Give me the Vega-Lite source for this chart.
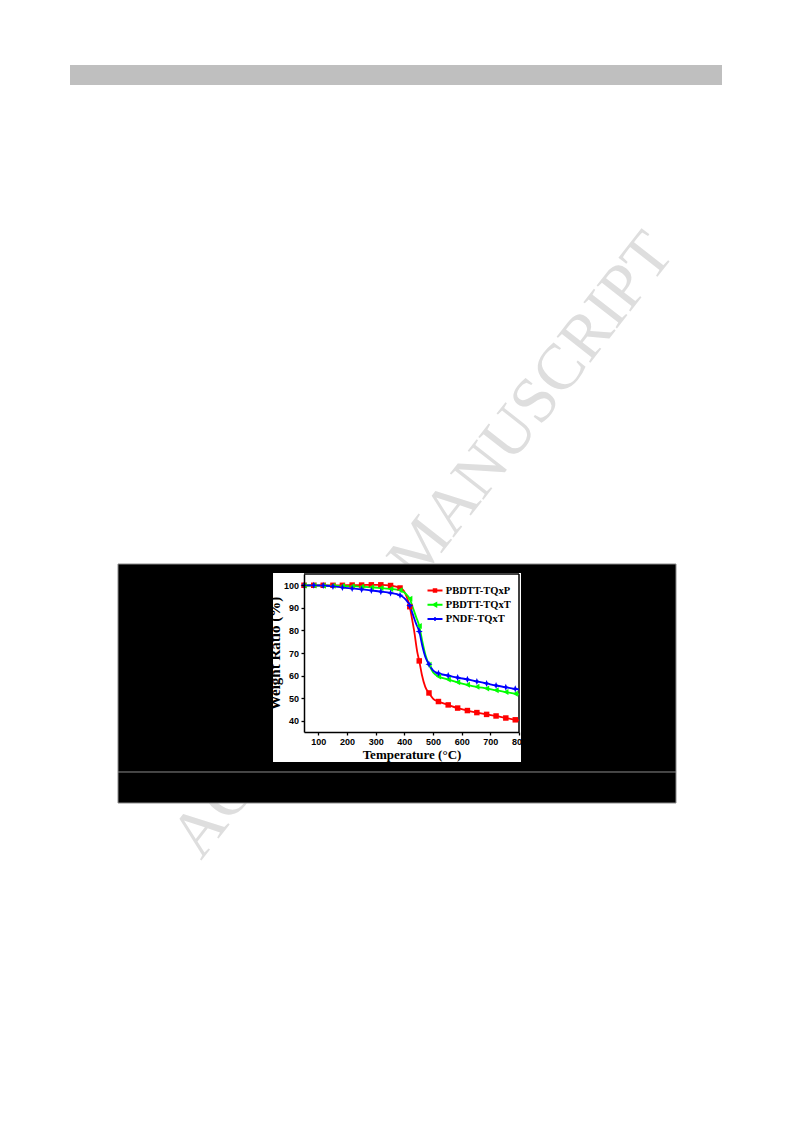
{
  "$schema": "https://vega.github.io/schema/vega-lite/v6.json",
  "width": 215,
  "height": 158,
  "autosize": {"type": "none"},
  "padding": {"left": 304, "top": 574, "right": 274, "bottom": 391},
  "background": "white",
  "view": {"stroke": null},
  "config": {
    "axis": {"grid": false, "labelOverlap": false, "labelFlush": false, "domainColor": "black", "domainWidth": 1.5, "tickColor": "black", "tickWidth": 1.3, "tickSize": 3, "labelColor": "black", "labelFont": "Liberation Sans", "labelFontWeight": "bold", "labelFontSize": 9, "titleColor": "black", "titleFont": "Liberation Serif", "titleFontWeight": "bold"}
  },
  "datasets": {
    "curves": [
      {"series": "PBDTT-TQxP", "T": 50, "W": 100.0}, {"series": "PBDTT-TQxP", "T": 84, "W": 100.0}, {"series": "PBDTT-TQxP", "T": 117, "W": 100.0}, {"series": "PBDTT-TQxP", "T": 151, "W": 100.0}, {"series": "PBDTT-TQxP", "T": 184, "W": 100.0}, {"series": "PBDTT-TQxP", "T": 218, "W": 100.1}, {"series": "PBDTT-TQxP", "T": 251, "W": 100.1}, {"series": "PBDTT-TQxP", "T": 285, "W": 100.2}, {"series": "PBDTT-TQxP", "T": 318, "W": 100.2}, {"series": "PBDTT-TQxP", "T": 352, "W": 99.9}, {"series": "PBDTT-TQxP", "T": 385, "W": 98.8}, {"series": "PBDTT-TQxP", "T": 398, "W": 97.6}, {"series": "PBDTT-TQxP", "T": 408, "W": 95.0}, {"series": "PBDTT-TQxP", "T": 419, "W": 90.5}, {"series": "PBDTT-TQxP", "T": 427, "W": 85.0}, {"series": "PBDTT-TQxP", "T": 434, "W": 80.0}, {"series": "PBDTT-TQxP", "T": 445, "W": 70.5}, {"series": "PBDTT-TQxP", "T": 452, "W": 66.5}, {"series": "PBDTT-TQxP", "T": 461, "W": 60.5}, {"series": "PBDTT-TQxP", "T": 473, "W": 55.0}, {"series": "PBDTT-TQxP", "T": 486, "W": 52.3}, {"series": "PBDTT-TQxP", "T": 500, "W": 49.8}, {"series": "PBDTT-TQxP", "T": 519, "W": 48.5}, {"series": "PBDTT-TQxP", "T": 553, "W": 47.0}, {"series": "PBDTT-TQxP", "T": 586, "W": 45.6}, {"series": "PBDTT-TQxP", "T": 620, "W": 44.5}, {"series": "PBDTT-TQxP", "T": 653, "W": 43.6}, {"series": "PBDTT-TQxP", "T": 687, "W": 42.8}, {"series": "PBDTT-TQxP", "T": 720, "W": 42.1}, {"series": "PBDTT-TQxP", "T": 754, "W": 41.2}, {"series": "PBDTT-TQxP", "T": 787, "W": 40.4}, {"series": "PBDTT-TQxP", "T": 800, "W": 40.1},
      {"series": "PBDTT-TQxT", "T": 50, "W": 99.9}, {"series": "PBDTT-TQxT", "T": 84, "W": 99.9}, {"series": "PBDTT-TQxT", "T": 117, "W": 99.8}, {"series": "PBDTT-TQxT", "T": 151, "W": 99.8}, {"series": "PBDTT-TQxT", "T": 184, "W": 99.7}, {"series": "PBDTT-TQxT", "T": 218, "W": 99.6}, {"series": "PBDTT-TQxT", "T": 251, "W": 99.4}, {"series": "PBDTT-TQxT", "T": 285, "W": 99.1}, {"series": "PBDTT-TQxT", "T": 318, "W": 98.8}, {"series": "PBDTT-TQxT", "T": 352, "W": 98.4}, {"series": "PBDTT-TQxT", "T": 385, "W": 97.8}, {"series": "PBDTT-TQxT", "T": 400, "W": 96.8}, {"series": "PBDTT-TQxT", "T": 410, "W": 95.5}, {"series": "PBDTT-TQxT", "T": 419, "W": 94.0}, {"series": "PBDTT-TQxT", "T": 430, "W": 90.0}, {"series": "PBDTT-TQxT", "T": 441, "W": 86.0}, {"series": "PBDTT-TQxT", "T": 452, "W": 82.0}, {"series": "PBDTT-TQxT", "T": 463, "W": 75.0}, {"series": "PBDTT-TQxT", "T": 474, "W": 69.0}, {"series": "PBDTT-TQxT", "T": 486, "W": 64.8}, {"series": "PBDTT-TQxT", "T": 500, "W": 61.5}, {"series": "PBDTT-TQxT", "T": 519, "W": 59.6}, {"series": "PBDTT-TQxT", "T": 553, "W": 58.3}, {"series": "PBDTT-TQxT", "T": 586, "W": 57.0}, {"series": "PBDTT-TQxT", "T": 620, "W": 55.9}, {"series": "PBDTT-TQxT", "T": 653, "W": 55.0}, {"series": "PBDTT-TQxT", "T": 687, "W": 54.3}, {"series": "PBDTT-TQxT", "T": 720, "W": 53.5}, {"series": "PBDTT-TQxT", "T": 754, "W": 52.7}, {"series": "PBDTT-TQxT", "T": 787, "W": 52.0}, {"series": "PBDTT-TQxT", "T": 800, "W": 51.7},
      {"series": "PNDF-TQxT", "T": 50, "W": 100.0}, {"series": "PNDF-TQxT", "T": 84, "W": 100.0}, {"series": "PNDF-TQxT", "T": 117, "W": 99.9}, {"series": "PNDF-TQxT", "T": 151, "W": 99.5}, {"series": "PNDF-TQxT", "T": 184, "W": 99.0}, {"series": "PNDF-TQxT", "T": 218, "W": 98.6}, {"series": "PNDF-TQxT", "T": 251, "W": 98.2}, {"series": "PNDF-TQxT", "T": 285, "W": 97.7}, {"series": "PNDF-TQxT", "T": 318, "W": 97.2}, {"series": "PNDF-TQxT", "T": 352, "W": 96.6}, {"series": "PNDF-TQxT", "T": 385, "W": 95.6}, {"series": "PNDF-TQxT", "T": 400, "W": 94.3}, {"series": "PNDF-TQxT", "T": 410, "W": 92.8}, {"series": "PNDF-TQxT", "T": 419, "W": 91.0}, {"series": "PNDF-TQxT", "T": 430, "W": 87.0}, {"series": "PNDF-TQxT", "T": 441, "W": 83.0}, {"series": "PNDF-TQxT", "T": 452, "W": 79.5}, {"series": "PNDF-TQxT", "T": 463, "W": 73.0}, {"series": "PNDF-TQxT", "T": 474, "W": 68.0}, {"series": "PNDF-TQxT", "T": 486, "W": 65.0}, {"series": "PNDF-TQxT", "T": 500, "W": 62.3}, {"series": "PNDF-TQxT", "T": 519, "W": 61.0}, {"series": "PNDF-TQxT", "T": 553, "W": 60.0}, {"series": "PNDF-TQxT", "T": 586, "W": 59.1}, {"series": "PNDF-TQxT", "T": 620, "W": 58.3}, {"series": "PNDF-TQxT", "T": 653, "W": 57.4}, {"series": "PNDF-TQxT", "T": 687, "W": 56.5}, {"series": "PNDF-TQxT", "T": 720, "W": 55.6}, {"series": "PNDF-TQxT", "T": 754, "W": 54.8}, {"series": "PNDF-TQxT", "T": 787, "W": 54.1}, {"series": "PNDF-TQxT", "T": 800, "W": 53.8}
    ],
    "markers": [
      {"series": "PBDTT-TQxP", "T": 50, "W": 100.0}, {"series": "PBDTT-TQxP", "T": 84, "W": 100.0}, {"series": "PBDTT-TQxP", "T": 117, "W": 100.0}, {"series": "PBDTT-TQxP", "T": 151, "W": 100.0}, {"series": "PBDTT-TQxP", "T": 184, "W": 100.0}, {"series": "PBDTT-TQxP", "T": 218, "W": 100.1}, {"series": "PBDTT-TQxP", "T": 251, "W": 100.1}, {"series": "PBDTT-TQxP", "T": 285, "W": 100.2}, {"series": "PBDTT-TQxP", "T": 318, "W": 100.2}, {"series": "PBDTT-TQxP", "T": 352, "W": 99.9}, {"series": "PBDTT-TQxP", "T": 385, "W": 98.8}, {"series": "PBDTT-TQxP", "T": 419, "W": 90.5}, {"series": "PBDTT-TQxP", "T": 452, "W": 66.5}, {"series": "PBDTT-TQxP", "T": 486, "W": 52.3}, {"series": "PBDTT-TQxP", "T": 519, "W": 48.5}, {"series": "PBDTT-TQxP", "T": 553, "W": 47.0}, {"series": "PBDTT-TQxP", "T": 586, "W": 45.6}, {"series": "PBDTT-TQxP", "T": 620, "W": 44.5}, {"series": "PBDTT-TQxP", "T": 653, "W": 43.6}, {"series": "PBDTT-TQxP", "T": 687, "W": 42.8}, {"series": "PBDTT-TQxP", "T": 720, "W": 42.1}, {"series": "PBDTT-TQxP", "T": 754, "W": 41.2}, {"series": "PBDTT-TQxP", "T": 787, "W": 40.4},
      {"series": "PBDTT-TQxT", "T": 50, "W": 99.9}, {"series": "PBDTT-TQxT", "T": 84, "W": 99.9}, {"series": "PBDTT-TQxT", "T": 117, "W": 99.8}, {"series": "PBDTT-TQxT", "T": 151, "W": 99.8}, {"series": "PBDTT-TQxT", "T": 184, "W": 99.7}, {"series": "PBDTT-TQxT", "T": 218, "W": 99.6}, {"series": "PBDTT-TQxT", "T": 251, "W": 99.4}, {"series": "PBDTT-TQxT", "T": 285, "W": 99.1}, {"series": "PBDTT-TQxT", "T": 318, "W": 98.8}, {"series": "PBDTT-TQxT", "T": 352, "W": 98.4}, {"series": "PBDTT-TQxT", "T": 385, "W": 97.8}, {"series": "PBDTT-TQxT", "T": 419, "W": 94.0}, {"series": "PBDTT-TQxT", "T": 452, "W": 82.0}, {"series": "PBDTT-TQxT", "T": 486, "W": 64.8}, {"series": "PBDTT-TQxT", "T": 519, "W": 59.6}, {"series": "PBDTT-TQxT", "T": 553, "W": 58.3}, {"series": "PBDTT-TQxT", "T": 586, "W": 57.0}, {"series": "PBDTT-TQxT", "T": 620, "W": 55.9}, {"series": "PBDTT-TQxT", "T": 653, "W": 55.0}, {"series": "PBDTT-TQxT", "T": 687, "W": 54.3}, {"series": "PBDTT-TQxT", "T": 720, "W": 53.5}, {"series": "PBDTT-TQxT", "T": 754, "W": 52.7}, {"series": "PBDTT-TQxT", "T": 787, "W": 52.0},
      {"series": "PNDF-TQxT", "T": 50, "W": 100.0}, {"series": "PNDF-TQxT", "T": 84, "W": 100.0}, {"series": "PNDF-TQxT", "T": 117, "W": 99.9}, {"series": "PNDF-TQxT", "T": 151, "W": 99.5}, {"series": "PNDF-TQxT", "T": 184, "W": 99.0}, {"series": "PNDF-TQxT", "T": 218, "W": 98.6}, {"series": "PNDF-TQxT", "T": 251, "W": 98.2}, {"series": "PNDF-TQxT", "T": 285, "W": 97.7}, {"series": "PNDF-TQxT", "T": 318, "W": 97.2}, {"series": "PNDF-TQxT", "T": 352, "W": 96.6}, {"series": "PNDF-TQxT", "T": 385, "W": 95.6}, {"series": "PNDF-TQxT", "T": 419, "W": 91.0}, {"series": "PNDF-TQxT", "T": 452, "W": 79.5}, {"series": "PNDF-TQxT", "T": 486, "W": 65.0}, {"series": "PNDF-TQxT", "T": 519, "W": 61.0}, {"series": "PNDF-TQxT", "T": 553, "W": 60.0}, {"series": "PNDF-TQxT", "T": 586, "W": 59.1}, {"series": "PNDF-TQxT", "T": 620, "W": 58.3}, {"series": "PNDF-TQxT", "T": 653, "W": 57.4}, {"series": "PNDF-TQxT", "T": 687, "W": 56.5}, {"series": "PNDF-TQxT", "T": 720, "W": 55.6}, {"series": "PNDF-TQxT", "T": 754, "W": 54.8}, {"series": "PNDF-TQxT", "T": 787, "W": 54.1}
    ]
  },
  "layer": [
    {
      "data": {"values": [{}]},
      "mark": {"type": "text", "text": "ACCEPTED MANUSCRIPT", "font": "Liberation Serif", "fontSize": 65, "color": "#dedede", "angle": -52, "align": "center", "baseline": "middle", "clip": false},
      "encoding": {
        "x": {"datum": 463.4, "type": "quantitative", "title": "Temperature (°C)", "scale": {"domain": [50, 800], "nice": false, "zero": false},
          "axis": {"zindex": 2, "values": [100, 200, 300, 400, 500, 600, 700, 800], "labelOverlap": false, "labelFlush": false, "titleFontSize": 13, "labelPadding": 2.5, "titlePadding": 2}},
        "y": {"datum": 117.85, "type": "quantitative", "title": "Weight Ratio (%)", "scale": {"domain": [35, 105], "nice": false, "zero": false},
          "axis": {"zindex": 2, "values": [40, 50, 60, 70, 80, 90, 100], "labelOverlap": false, "labelFlush": false, "titleFontSize": 15, "labelPadding": 2.5, "titlePadding": 1}}
      }
    },
    {
      "data": {"values": [{}]},
      "mark": {"type": "rect", "color": "#bfbfbf", "clip": false},
      "encoding": {
        "x": {"datum": -766.3, "type": "quantitative", "title": "Temperature (°C)", "axis": {"zindex": 2, "values": [100, 200, 300, 400, 500, 600, 700, 800], "labelOverlap": false, "labelFlush": false, "titleFontSize": 13, "labelPadding": 2.5, "titlePadding": 2}},
        "x2": {"datum": 1508.1},
        "y": {"datum": 330.5, "type": "quantitative", "title": "Weight Ratio (%)", "axis": {"zindex": 2, "values": [40, 50, 60, 70, 80, 90, 100], "labelOverlap": false, "labelFlush": false, "titleFontSize": 15, "labelPadding": 2.5, "titlePadding": 1}},
        "y2": {"datum": 321.6}
      }
    },
    {
      "data": {"values": [{}]},
      "mark": {"type": "rect", "fill": "black", "stroke": "#8a8a8a", "strokeWidth": 1, "clip": false},
      "encoding": {
        "x": {"datum": -598.8, "type": "quantitative", "title": "Temperature (°C)", "axis": {"zindex": 2, "values": [100, 200, 300, 400, 500, 600, 700, 800], "labelOverlap": false, "labelFlush": false, "titleFontSize": 13, "labelPadding": 2.5, "titlePadding": 2}},
        "x2": {"datum": 1347.7},
        "y": {"datum": 109.43, "type": "quantitative", "title": "Weight Ratio (%)", "axis": {"zindex": 2, "values": [40, 50, 60, 70, 80, 90, 100], "labelOverlap": false, "labelFlush": false, "titleFontSize": 15, "labelPadding": 2.5, "titlePadding": 1}},
        "y2": {"datum": 3.54}
      }
    },
    {
      "data": {"values": [{}]},
      "mark": {"type": "rule", "color": "#8a8a8a", "strokeWidth": 1, "clip": false},
      "encoding": {
        "x": {"datum": -598.8, "type": "quantitative", "title": "Temperature (°C)", "axis": {"zindex": 2, "values": [100, 200, 300, 400, 500, 600, 700, 800], "labelOverlap": false, "labelFlush": false, "titleFontSize": 13, "labelPadding": 2.5, "titlePadding": 2}},
        "x2": {"datum": 1347.7},
        "y": {"datum": 17.28, "type": "quantitative", "title": "Weight Ratio (%)", "axis": {"zindex": 2, "values": [40, 50, 60, 70, 80, 90, 100], "labelOverlap": false, "labelFlush": false, "titleFontSize": 15, "labelPadding": 2.5, "titlePadding": 1}}
      }
    },
    {
      "data": {"values": [{}]},
      "mark": {"type": "rect", "fill": "white", "clip": false},
      "encoding": {
        "x": {"datum": -58.1, "type": "quantitative", "title": "Temperature (°C)", "axis": {"zindex": 2, "values": [100, 200, 300, 400, 500, 600, 700, 800], "labelOverlap": false, "labelFlush": false, "titleFontSize": 13, "labelPadding": 2.5, "titlePadding": 2}},
        "x2": {"datum": 807},
        "y": {"datum": 105.44, "type": "quantitative", "title": "Weight Ratio (%)", "axis": {"zindex": 2, "values": [40, 50, 60, 70, 80, 90, 100], "labelOverlap": false, "labelFlush": false, "titleFontSize": 15, "labelPadding": 2.5, "titlePadding": 1}},
        "y2": {"datum": 21.71}
      }
    },
    {
      "data": {"values": [{}]},
      "mark": {"type": "rule", "color": "black", "strokeWidth": 1.5, "clip": false},
      "encoding": {
        "x": {"datum": 50, "type": "quantitative", "title": "Temperature (°C)", "axis": {"zindex": 2, "values": [100, 200, 300, 400, 500, 600, 700, 800], "labelOverlap": false, "labelFlush": false, "titleFontSize": 13, "labelPadding": 2.5, "titlePadding": 2}},
        "x2": {"datum": 800},
        "y": {"datum": 105, "type": "quantitative", "title": "Weight Ratio (%)", "axis": {"zindex": 2, "values": [40, 50, 60, 70, 80, 90, 100], "labelOverlap": false, "labelFlush": false, "titleFontSize": 15, "labelPadding": 2.5, "titlePadding": 1}}
      }
    },
    {
      "data": {"values": [{}]},
      "mark": {"type": "rule", "color": "black", "strokeWidth": 1.5, "clip": false},
      "encoding": {
        "x": {"datum": 800, "type": "quantitative", "title": "Temperature (°C)", "axis": {"zindex": 2, "values": [100, 200, 300, 400, 500, 600, 700, 800], "labelOverlap": false, "labelFlush": false, "titleFontSize": 13, "labelPadding": 2.5, "titlePadding": 2}},
        "y": {"datum": 35, "type": "quantitative", "title": "Weight Ratio (%)", "axis": {"zindex": 2, "values": [40, 50, 60, 70, 80, 90, 100], "labelOverlap": false, "labelFlush": false, "titleFontSize": 15, "labelPadding": 2.5, "titlePadding": 1}},
        "y2": {"datum": 105}
      }
    },
    {
      "data": {"name": "curves"},
      "mark": {"type": "line", "interpolate": "monotone", "strokeWidth": 1.8},
      "encoding": {
        "x": {"field": "T", "type": "quantitative", "title": "Temperature (°C)", "axis": {"zindex": 2, "values": [100, 200, 300, 400, 500, 600, 700, 800], "labelOverlap": false, "labelFlush": false, "titleFontSize": 13, "labelPadding": 2.5, "titlePadding": 2}},
        "y": {"field": "W", "type": "quantitative", "title": "Weight Ratio (%)", "axis": {"zindex": 2, "values": [40, 50, 60, 70, 80, 90, 100], "labelOverlap": false, "labelFlush": false, "titleFontSize": 15, "labelPadding": 2.5, "titlePadding": 1}},
        "color": {"field": "series", "type": "nominal",
          "scale": {"domain": ["PBDTT-TQxP", "PBDTT-TQxT", "PNDF-TQxT"], "range": ["#ff0000", "#00ff00", "#0000ff"]},
          "legend": {"orient": "none", "legendX": 125, "legendY": 10.5, "title": null, "padding": 0, "zindex": 2,
            "symbolType": "M-1.5,0H1.5", "symbolSize": 100, "symbolStrokeWidth": 2, "rowPadding": 2.2,
            "labelFont": "Liberation Serif", "labelFontWeight": "bold", "labelFontSize": 10.5, "labelColor": "black", "labelOffset": 4.8,
            "encode": {"symbols": {"update": {
              "fill": {"scale": "color", "field": "value"},
              "stroke": {"scale": "color", "field": "value"},
              "shape": {"signal": "datum.value === 'PBDTT-TQxP' ? 'M-1.5,0H1.5M-0.25,-0.25H0.25V0.25H-0.25Z' : datum.value === 'PBDTT-TQxT' ? 'M-1.5,0H1.5M-0.3,0L0.25,-0.3V0.3Z' : 'M-1.5,0H1.5M0,-0.35V0.35'"}
            }}}}
        }
      }
    },
    {
      "data": {"name": "markers"},
      "transform": [{"filter": "datum.series === 'PBDTT-TQxP'"}],
      "mark": {"type": "point", "filled": true, "opacity": 1, "size": 30, "shape": "square"},
      "encoding": {
        "x": {"field": "T", "type": "quantitative", "title": "Temperature (°C)", "axis": {"zindex": 2, "values": [100, 200, 300, 400, 500, 600, 700, 800], "labelOverlap": false, "labelFlush": false, "titleFontSize": 13, "labelPadding": 2.5, "titlePadding": 2}},
        "y": {"field": "W", "type": "quantitative", "title": "Weight Ratio (%)", "axis": {"zindex": 2, "values": [40, 50, 60, 70, 80, 90, 100], "labelOverlap": false, "labelFlush": false, "titleFontSize": 15, "labelPadding": 2.5, "titlePadding": 1}},
        "color": {"field": "series", "type": "nominal"}
      }
    },
    {
      "data": {"name": "markers"},
      "transform": [{"filter": "datum.series === 'PBDTT-TQxT'"}],
      "mark": {"type": "point", "filled": true, "opacity": 1, "size": 36, "shape": "triangle-left"},
      "encoding": {
        "x": {"field": "T", "type": "quantitative", "title": "Temperature (°C)", "axis": {"zindex": 2, "values": [100, 200, 300, 400, 500, 600, 700, 800], "labelOverlap": false, "labelFlush": false, "titleFontSize": 13, "labelPadding": 2.5, "titlePadding": 2}},
        "y": {"field": "W", "type": "quantitative", "title": "Weight Ratio (%)", "axis": {"zindex": 2, "values": [40, 50, 60, 70, 80, 90, 100], "labelOverlap": false, "labelFlush": false, "titleFontSize": 15, "labelPadding": 2.5, "titlePadding": 1}},
        "color": {"field": "series", "type": "nominal"}
      }
    },
    {
      "data": {"name": "markers"},
      "transform": [{"filter": "datum.series === 'PNDF-TQxT'"}],
      "mark": {"type": "point", "filled": true, "opacity": 1, "size": 50, "shape": "M0,-1L0.3,-0.3L1,0L0.3,0.3L0,1L-0.3,0.3L-1,0L-0.3,-0.3Z"},
      "encoding": {
        "x": {"field": "T", "type": "quantitative", "title": "Temperature (°C)", "axis": {"zindex": 2, "values": [100, 200, 300, 400, 500, 600, 700, 800], "labelOverlap": false, "labelFlush": false, "titleFontSize": 13, "labelPadding": 2.5, "titlePadding": 2}},
        "y": {"field": "W", "type": "quantitative", "title": "Weight Ratio (%)", "axis": {"zindex": 2, "values": [40, 50, 60, 70, 80, 90, 100], "labelOverlap": false, "labelFlush": false, "titleFontSize": 15, "labelPadding": 2.5, "titlePadding": 1}},
        "color": {"field": "series", "type": "nominal"}
      }
    }
  ]
}
